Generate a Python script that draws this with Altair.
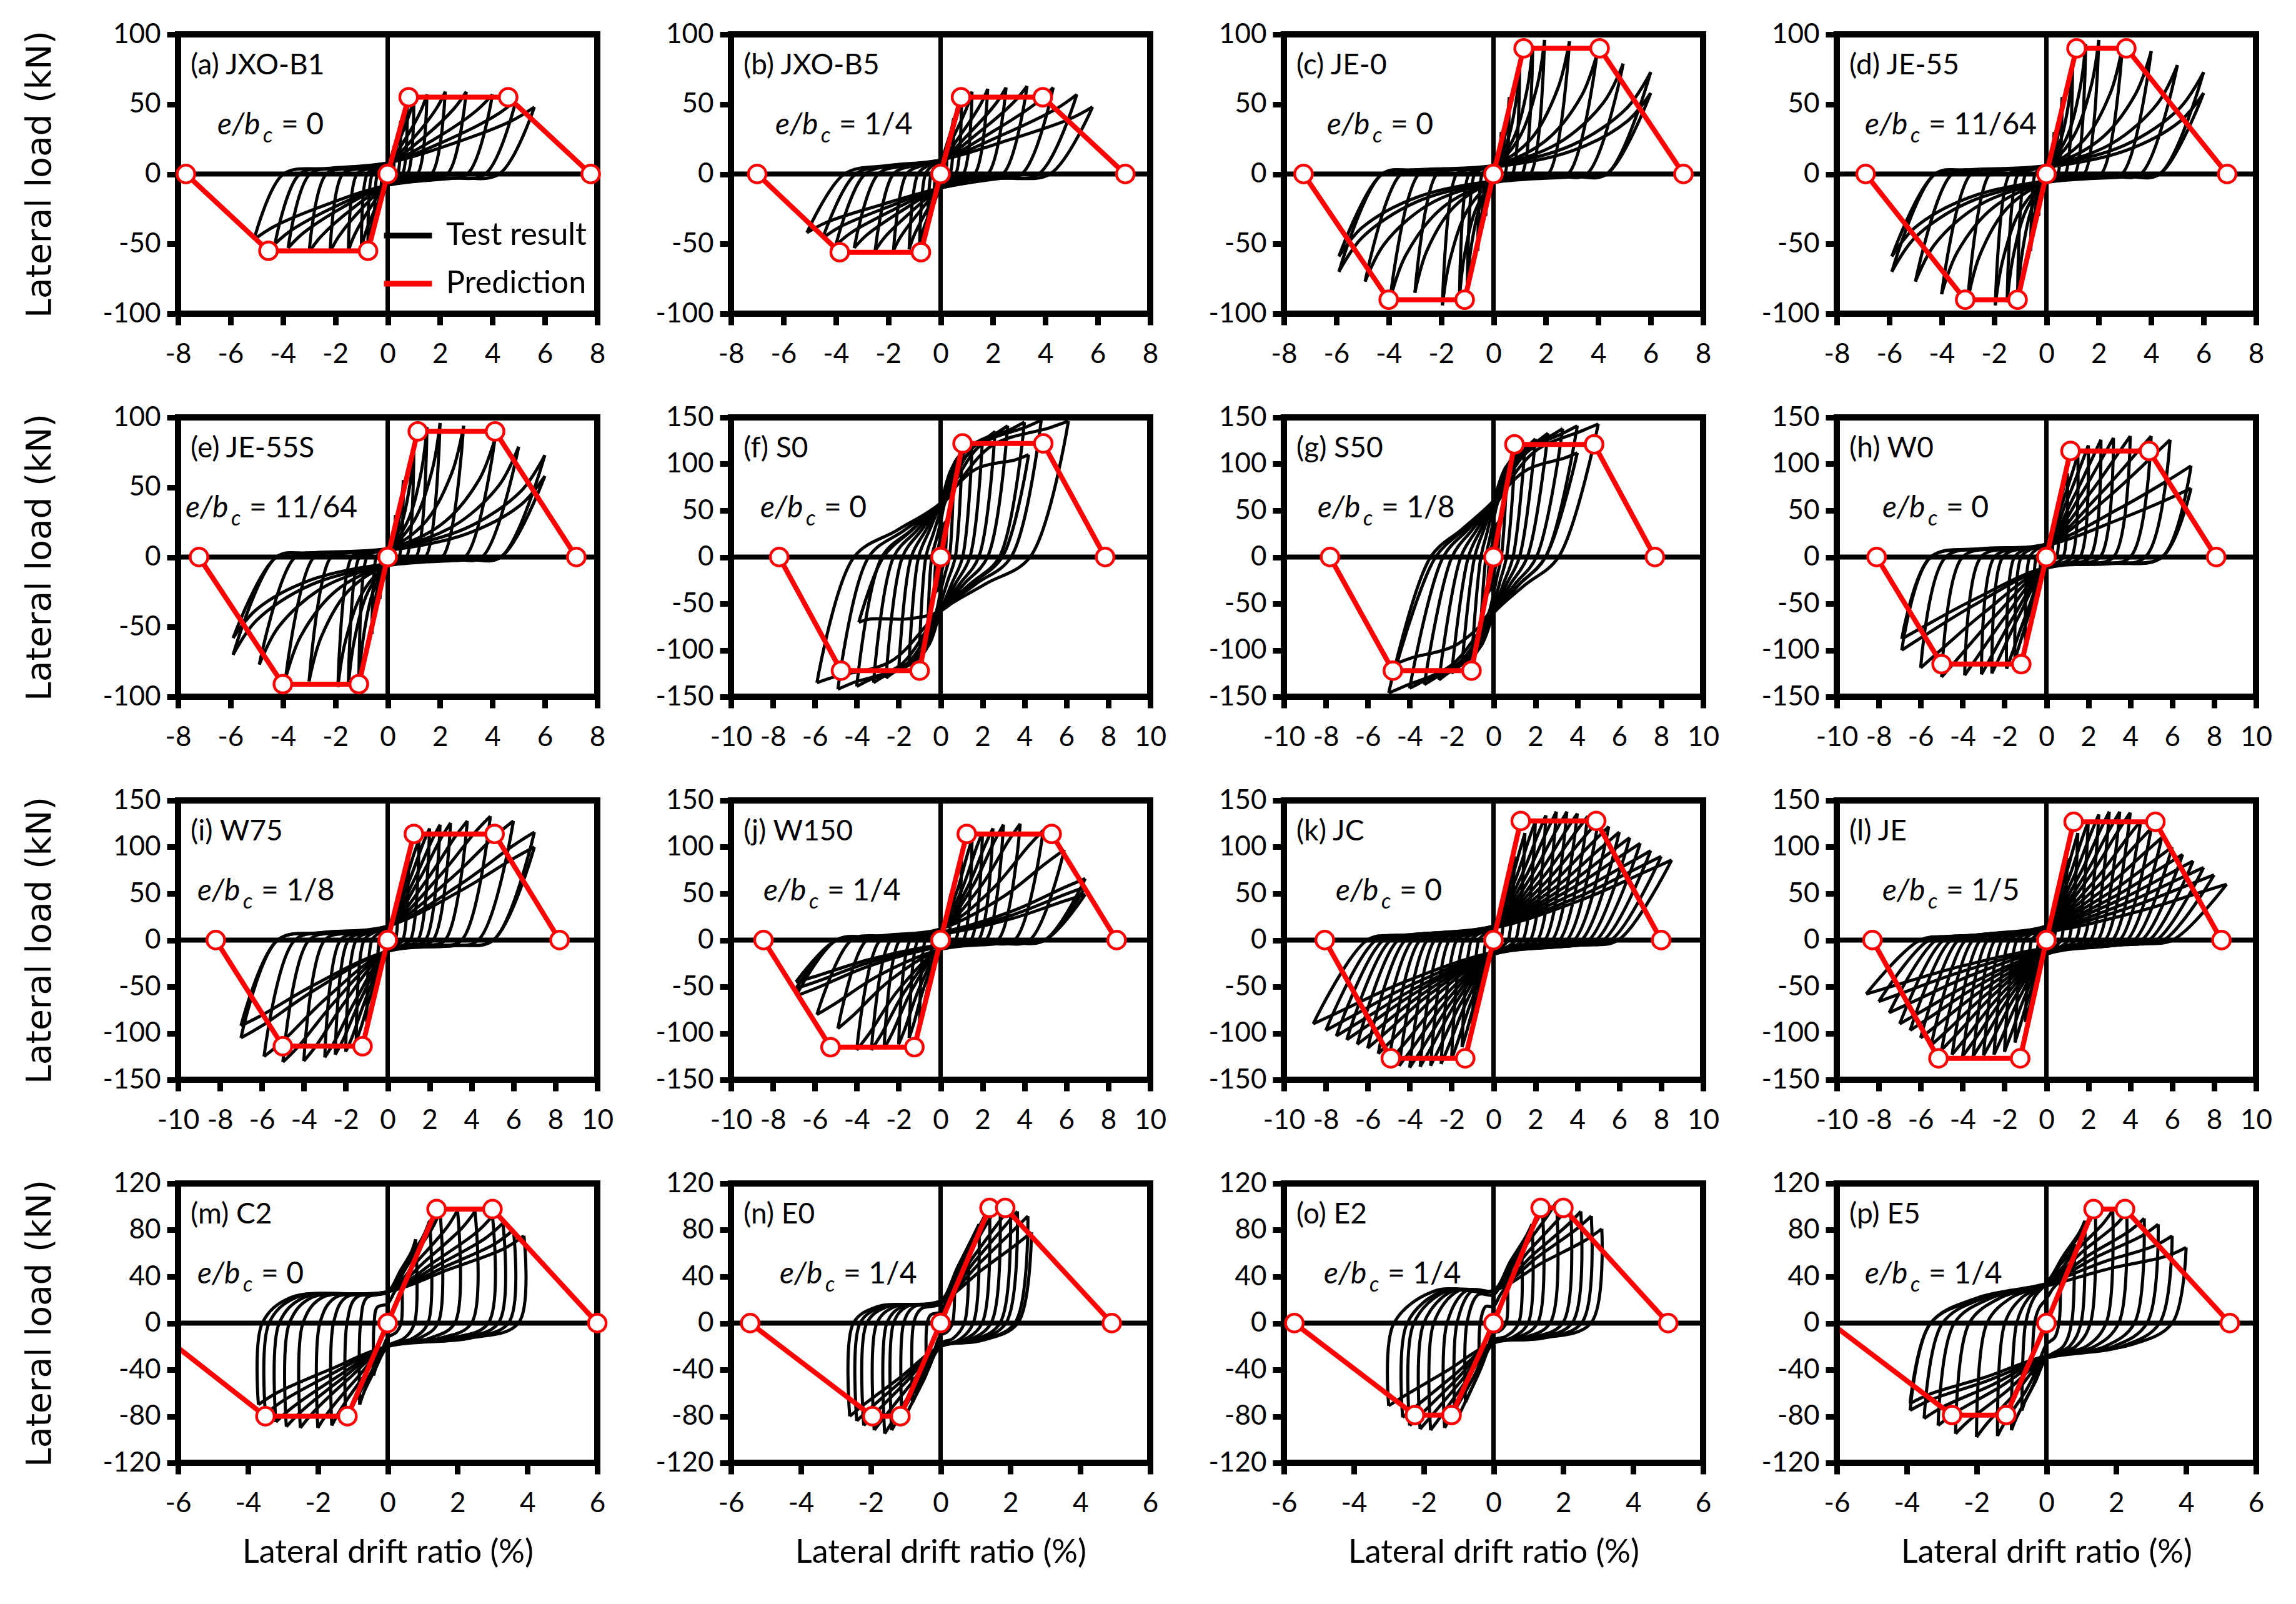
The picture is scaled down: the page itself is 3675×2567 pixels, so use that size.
import altair as alt
import pandas as pd

# ---------------- panel metadata ----------------
PANEL_TITLES = ["(a) JXO-B1", "(b) JXO-B5", "(c) JE-0", "(d) JE-55",
                "(e) JE-55S", "(f) S0", "(g) S50", "(h) W0",
                "(i) W75", "(j) W150", "(k) JC", "(l) JE",
                "(m) C2", "(n) E0", "(o) E2", "(p) E5"]
EBC_VALUES = ["0", "1/4", "0", "11/64", "11/64", "0", "1/8", "0",
              "1/8", "1/4", "0", "1/5", "0", "1/4", "1/4", "1/4"]
X_TICKS_8 = [-8, -6, -4, -2, 0, 2, 4, 6, 8]
X_TICKS_10 = [-10, -8, -6, -4, -2, 0, 2, 4, 6, 8, 10]
X_TICKS_6 = [-6, -4, -2, 0, 2, 4, 6]
Y_TICKS_100 = [-100, -50, 0, 50, 100]
Y_TICKS_150 = [-150, -100, -50, 0, 50, 100, 150]
Y_TICKS_120 = [-120, -80, -40, 0, 40, 80, 120]
PANEL_XTICKS = [X_TICKS_8] * 5 + [X_TICKS_10] * 7 + [X_TICKS_6] * 4
PANEL_YTICKS = [Y_TICKS_100] * 5 + [Y_TICKS_150] * 7 + [Y_TICKS_120] * 4

# ---------------- test result: cycle peaks (drift %, load kN) ----------------
A_POS = [(0.25, 20), (0.5, 38), (0.75, 50), (1.0, 55), (1.5, 57), (2.2, 59), (3.0, 59), (4.0, 57), (4.9, 53), (5.6, 48)]
A_NEG = [(-0.25, -20), (-0.5, -38), (-0.75, -48), (-1.0, -53), (-1.5, -55), (-2.2, -56), (-3.0, -56), (-3.8, -53), (-4.3, -50), (-5.1, -47)]
B_POS = [(0.25, 20), (0.5, 40), (0.8, 55), (1.2, 59), (1.8, 61), (2.5, 62), (3.3, 63), (4.3, 62), (5.2, 57), (5.8, 48)]
B_NEG = [(-0.25, -20), (-0.5, -38), (-0.8, -50), (-1.2, -54), (-1.8, -55), (-2.5, -55), (-3.3, -53), (-4.0, -51), (-4.5, -46), (-5.1, -42)]
C_POS = [(0.3, 30), (0.6, 55), (1.0, 78), (1.5, 92), (1.95, 96), (2.9, 95), (3.95, 86), (4.95, 79), (6.0, 73), (6.0, 58)]
C_NEG = [(-0.3, -30), (-0.6, -55), (-1.0, -80), (-1.3, -89), (-1.95, -94), (-3.0, -85), (-3.95, -90), (-4.9, -77), (-5.9, -70), (-5.9, -59)]
D_POS = [(0.3, 30), (0.6, 55), (1.0, 78), (1.5, 93), (2.0, 96), (2.9, 91), (4.0, 88), (5.0, 78), (6.0, 73), (6.0, 58)]
D_NEG = [(-0.3, -30), (-0.6, -55), (-1.1, -89), (-1.5, -92), (-1.95, -94), (-3.0, -90), (-4.0, -86), (-5.0, -77), (-5.9, -70), (-5.9, -59)]
E_POS = [(0.3, 30), (0.6, 55), (1.0, 80), (1.5, 93), (2.0, 96), (2.9, 94), (4.1, 85), (5.0, 79), (6.0, 73), (6.0, 58)]
E_NEG = [(-0.3, -30), (-0.6, -55), (-1.1, -90), (-1.5, -92), (-1.9, -93), (-3.0, -89), (-3.9, -87), (-4.9, -77), (-5.9, -70), (-5.9, -58)]
F_POS = [(0.3, 40), (0.6, 70), (1.0, 95), (1.5, 115), (2.0, 127), (2.6, 135), (3.2, 141), (4.0, 145), (4.8, 147), (6.1, 146), (4.2, 110)]
F_NEG = [(-0.3, -40), (-0.6, -70), (-1.0, -95), (-1.5, -112), (-2.0, -122), (-2.6, -130), (-3.2, -135), (-4.0, -139), (-4.9, -142), (-5.9, -135), (-3.9, -70)]
G_POS = [(0.3, 40), (0.6, 72), (1.0, 98), (1.5, 117), (2.0, 127), (2.6, 133), (3.3, 138), (4.0, 141), (5.0, 143), (4.0, 112)]
G_NEG = [(-0.3, -40), (-0.6, -72), (-1.0, -97), (-1.5, -115), (-2.0, -125), (-2.6, -132), (-3.3, -137), (-4.0, -141), (-5.0, -146), (-4.6, -114)]
H_POS = [(0.3, 30), (0.6, 60), (1.0, 90), (1.5, 110), (2.0, 120), (2.6, 126), (3.2, 128), (4.0, 130), (5.0, 130), (5.9, 126), (6.9, 98), (6.9, 74)]
H_NEG = [(-0.3, -30), (-0.6, -60), (-1.0, -92), (-1.5, -110), (-1.9, -120), (-2.6, -125), (-3.1, -126), (-3.9, -127), (-5.0, -129), (-6.0, -119), (-6.9, -100), (-6.9, -88)]
I_POS = [(0.5, 40), (1.0, 85), (1.5, 108), (2.0, 120), (2.5, 124), (3.0, 126), (3.8, 128), (4.9, 133), (6.0, 128), (7.0, 116), (7.0, 100)]
I_NEG = [(-0.5, -45), (-1.0, -88), (-1.5, -108), (-2.0, -120), (-2.5, -123), (-3.0, -126), (-4.0, -130), (-5.0, -131), (-5.9, -125), (-7.0, -105), (-7.0, -92)]
J_POS = [(0.5, 50), (1.0, 90), (1.5, 108), (2.0, 116), (2.5, 120), (3.0, 124), (3.8, 125), (4.9, 118), (5.9, 97), (6.9, 66), (6.9, 57), (6.9, 49)]
J_NEG = [(-0.5, -50), (-1.0, -88), (-1.5, -105), (-2.0, -112), (-2.7, -117), (-3.3, -118), (-4.0, -118), (-4.9, -95), (-5.9, -80), (-6.9, -60), (-6.9, -52), (-6.9, -45)]
K_POS = [(0.5, 40), (1.0, 90), (1.5, 115), (2.0, 128), (2.5, 134), (3.0, 138), (3.5, 138), (4.0, 136), (4.5, 133), (5.0, 128), (5.5, 122), (6.0, 116), (6.5, 110), (7.0, 104), (7.5, 96), (8.0, 90), (8.5, 86)]
K_NEG = [(-0.5, -40), (-1.0, -90), (-1.5, -115), (-2.0, -128), (-2.5, -133), (-3.0, -135), (-3.5, -136), (-4.0, -137), (-4.5, -135), (-5.0, -131), (-5.5, -122), (-6.0, -116), (-6.5, -112), (-7.0, -107), (-7.5, -103), (-8.0, -97), (-8.6, -90)]
L_POS = [(0.5, 40), (1.0, 88), (1.5, 115), (2.0, 128), (2.5, 135), (3.0, 138), (3.5, 138), (4.0, 137), (4.5, 128), (5.0, 120), (5.5, 110), (6.0, 100), (6.5, 92), (7.0, 85), (7.5, 78), (8.0, 70), (8.6, 60)]
L_NEG = [(-0.5, -40), (-1.0, -88), (-1.5, -110), (-2.0, -120), (-2.5, -123), (-3.0, -124), (-3.5, -125), (-4.0, -125), (-4.5, -123), (-5.0, -118), (-5.5, -113), (-6.0, -105), (-6.5, -97), (-7.0, -90), (-7.5, -78), (-8.0, -66), (-8.6, -58)]
M_POS = [(0.4, 40), (0.8, 72), (1.2, 88), (1.5, 96), (2.0, 97), (2.5, 96), (3.0, 92), (3.3, 86), (3.6, 80), (3.9, 75)]
M_NEG = [(-0.4, -45), (-0.8, -70), (-1.2, -85), (-1.6, -88), (-2.0, -90), (-2.5, -90), (-2.9, -89), (-3.2, -85), (-3.5, -78), (-3.7, -70)]
N_POS = [(0.4, 35), (0.8, 65), (1.1, 85), (1.4, 100), (1.7, 104), (2.0, 100), (2.2, 96), (2.5, 92), (2.6, 78)]
N_NEG = [(-0.4, -40), (-0.8, -68), (-1.1, -86), (-1.4, -92), (-1.6, -95), (-1.9, -92), (-2.2, -88), (-2.4, -84), (-2.6, -80)]
O_POS = [(0.4, 35), (0.8, 65), (1.1, 85), (1.4, 97), (1.8, 104), (2.2, 102), (2.5, 96), (2.8, 92), (3.1, 81)]
O_NEG = [(-0.4, -40), (-0.8, -68), (-1.1, -86), (-1.4, -90), (-1.8, -92), (-2.1, -91), (-2.4, -88), (-2.6, -81), (-3.0, -71)]
P_POS = [(0.4, 40), (0.8, 68), (1.1, 88), (1.4, 97), (1.9, 97), (2.3, 95), (2.8, 90), (3.2, 85), (3.6, 75), (4.0, 65)]
P_NEG = [(-0.4, -45), (-0.7, -75), (-1.0, -92), (-1.4, -97), (-2.0, -98), (-2.6, -95), (-3.1, -88), (-3.5, -82), (-3.9, -75), (-3.9, -69)]

# loop shape read per panel:
# (pos unload zero frac, pos plateau frac, pos plateau load, lower crossing,
#  neg unload zero frac, neg plateau frac, neg plateau load, upper crossing,
#  loading mid drift frac, loading mid load frac, near-peak load frac)
A_SHAPE = (0.76, 0.45, -3, -8, 0.78, 0.45, 4, 8, 0.45, 0.35, 0.80)
B_SHAPE = (0.72, 0.40, -3, -10, 0.72, 0.40, 6, 10, 0.45, 0.38, 0.82)
C_SHAPE = (0.72, 0.50, -2, -6, 0.72, 0.50, 3, 6, 0.50, 0.22, 0.65)
D_SHAPE = (0.72, 0.50, -2, -6, 0.72, 0.50, 3, 6, 0.50, 0.22, 0.65)
E_SHAPE = (0.72, 0.50, -2, -6, 0.72, 0.50, 3, 6, 0.50, 0.22, 0.65)
F_SHAPE = (0.70, 0.35, -29, -58, 0.70, 0.35, 29, 58, 0.40, 0.70, 0.95)
G_SHAPE = (0.62, 0.30, -30, -60, 0.60, 0.30, 30, 60, 0.40, 0.65, 0.95)
H_SHAPE = (0.80, 0.45, -7, -12, 0.80, 0.45, 9, 14, 0.50, 0.45, 0.85)
I_SHAPE = (0.72, 0.45, -6, -12, 0.75, 0.45, 8, 15, 0.50, 0.45, 0.87)
J_SHAPE = (0.72, 0.45, -4, -10, 0.72, 0.45, 5, 12, 0.50, 0.40, 0.85)
K_SHAPE = (0.70, 0.50, -6, -15, 0.70, 0.50, 6, 15, 0.50, 0.42, 0.85)
L_SHAPE = (0.70, 0.50, -6, -15, 0.70, 0.50, 6, 15, 0.50, 0.42, 0.85)
M_SHAPE = (0.96, 0.60, -13, -20, 0.97, 0.75, 22, 27, 0.45, 0.40, 0.85)
N_SHAPE = (0.85, 0.45, -15, -20, 0.96, 0.70, 14, 19, 0.45, 0.45, 0.88)
O_SHAPE = (0.90, 0.45, -13, -17, 0.95, 0.55, 28, 28, 0.45, 0.45, 0.88)
P_SHAPE = (0.90, 0.60, -20, -30, 0.85, 0.50, 22, 34, 0.45, 0.45, 0.88)

# ---------------- prediction (drift %, load kN) ----------------
A_PRED_D = [-7.7, -4.55, -0.75, 0, 0.8, 4.6, 7.75]
A_PRED_P = [0, -55, -55, 0, 55, 55, 0]
B_PRED_D = [-7.0, -3.85, -0.75, 0, 0.78, 3.9, 7.05]
B_PRED_P = [0, -56, -56, 0, 55, 55, 0]
C_PRED_D = [-7.25, -4.0, -1.1, 0, 1.15, 4.05, 7.25]
C_PRED_P = [0, -90, -90, 0, 90, 90, 0]
D_PRED_D = [-6.9, -3.1, -1.1, 0, 1.15, 3.05, 6.9]
D_PRED_P = [0, -90, -90, 0, 90, 90, 0]
E_PRED_D = [-7.2, -4.0, -1.1, 0, 1.15, 4.1, 7.2]
E_PRED_P = [0, -91, -91, 0, 90, 90, 0]
F_PRED_D = [-7.7, -4.75, -1.0, 0, 1.05, 4.9, 7.85]
F_PRED_P = [0, -122, -122, 0, 122, 122, 0]
G_PRED_D = [-7.8, -4.8, -1.05, 0, 1.0, 4.8, 7.7]
G_PRED_P = [0, -122, -122, 0, 121, 121, 0]
H_PRED_D = [-8.1, -5.0, -1.2, 0, 1.15, 4.9, 8.1]
H_PRED_P = [0, -115, -115, 0, 114, 114, 0]
I_PRED_D = [-8.2, -5.0, -1.2, 0, 1.25, 5.1, 8.2]
I_PRED_P = [0, -114, -114, 0, 114, 114, 0]
J_PRED_D = [-8.45, -5.25, -1.25, 0, 1.25, 5.3, 8.4]
J_PRED_P = [0, -115, -115, 0, 114, 114, 0]
K_PRED_D = [-8.05, -4.9, -1.35, 0, 1.3, 4.9, 8.0]
K_PRED_P = [0, -127, -127, 0, 128, 128, 0]
L_PRED_D = [-8.3, -5.15, -1.25, 0, 1.3, 5.2, 8.35]
L_PRED_P = [0, -127, -127, 0, 127, 127, 0]
M_PRED_D = [-6.9, -3.5, -1.15, 0, 1.4, 3.0, 6.0]
M_PRED_P = [0, -80, -80, 0, 98, 98, 0]
N_PRED_D = [-5.45, -1.95, -1.15, 0, 1.4, 1.85, 4.9]
N_PRED_P = [0, -80, -80, 0, 99, 99, 0]
O_PRED_D = [-5.7, -2.25, -1.2, 0, 1.35, 2.0, 5.0]
O_PRED_P = [0, -79, -79, 0, 99, 99, 0]
P_PRED_D = [-6.17, -2.7, -1.15, 0, 1.35, 2.25, 5.25]
P_PRED_P = [0, -79, -79, 0, 98, 98, 0]

POS_ALL = [A_POS, B_POS, C_POS, D_POS, E_POS, F_POS, G_POS, H_POS, I_POS, J_POS, K_POS, L_POS, M_POS, N_POS, O_POS, P_POS]
NEG_ALL = [A_NEG, B_NEG, C_NEG, D_NEG, E_NEG, F_NEG, G_NEG, H_NEG, I_NEG, J_NEG, K_NEG, L_NEG, M_NEG, N_NEG, O_NEG, P_NEG]
SHAPE_ALL = [A_SHAPE, B_SHAPE, C_SHAPE, D_SHAPE, E_SHAPE, F_SHAPE, G_SHAPE, H_SHAPE, I_SHAPE, J_SHAPE, K_SHAPE, L_SHAPE, M_SHAPE, N_SHAPE, O_SHAPE, P_SHAPE]
PRED_D_ALL = [A_PRED_D, B_PRED_D, C_PRED_D, D_PRED_D, E_PRED_D, F_PRED_D, G_PRED_D, H_PRED_D, I_PRED_D, J_PRED_D, K_PRED_D, L_PRED_D, M_PRED_D, N_PRED_D, O_PRED_D, P_PRED_D]
PRED_P_ALL = [A_PRED_P, B_PRED_P, C_PRED_P, D_PRED_P, E_PRED_P, F_PRED_P, G_PRED_P, H_PRED_P, I_PRED_P, J_PRED_P, K_PRED_P, L_PRED_P, M_PRED_P, N_PRED_P, O_PRED_P, P_PRED_P]

# ---------------- layout / style ----------------
W, H = 671, 447
EBC_DX = [63, 71, 69, 45, 12, 47, 54, 73, 31, 52, 83, 73, 31, 78, 64, 45]
LABEL_DX, LABEL_Y, EBC_Y = 20, 50, 146
TXT_FONT = "Lato"
RED = "#FF0000"
FRAME_W = 10
HYPHEN_LABEL = "datum.value < 0 ? '-' + abs(datum.value) : '' + datum.value"


def build_loops(pos, neg, shape):
    up, wp, sb, cb, un, wn, st, ct, mx, my, q = shape
    pmax = max(max(abs(v) for _, v in pos), max(abs(v) for _, v in neg))
    rows = []
    g = 0
    for (dp, pp), (dn, pn) in zip(pos, neg):
        f = min(1.0, max(abs(pp), abs(pn)) / (0.75 * pmax))
        t, tc, b, bc = st * f, ct * f, sb * f, cb * f
        seg_a = [(dn, pn), (un * dn, 0.0), (wn * dn, t), (0.0, tc),
                 (mx * dp, tc + my * (pp - tc)), (0.85 * dp, q * pp), (dp, pp)]
        seg_b = [(dp, pp), (up * dp, 0.0), (wp * dp, b), (0.0, bc),
                 (mx * dn, bc + my * (pn - bc)), (0.85 * dn, q * pn), (dn, pn)]
        for seg in (seg_a, seg_b):
            for k, (x, y) in enumerate(seg):
                rows.append({"d": x, "p": y, "g": g, "k": k, "series": "Test result"})
            g += 1
    return pd.DataFrame(rows)


def panel(i):
    r, c = divmod(i, 4)
    xt, yt = PANEL_XTICKS[i], PANEL_YTICKS[i]
    xs = alt.Scale(domain=[xt[0], xt[-1]], nice=False, zero=False)
    ys = alt.Scale(domain=[yt[0], yt[-1]], nice=False, zero=False)
    xaxis = alt.Axis(values=xt, labelExpr=HYPHEN_LABEL,
                     title="Lateral drift ratio (%)" if r == 3 else None)
    yaxis = alt.Axis(values=yt, labelExpr=HYPHEN_LABEL,
                     title="Lateral load (kN)" if c == 0 else None)
    X = alt.X("d:Q", scale=xs, axis=xaxis)
    Y = alt.Y("p:Q", scale=ys, axis=yaxis)

    if i == 0:
        cscale = alt.Scale(domain=["Test result", "Prediction"], range=["black", RED])
        legend = alt.Legend(title=None, orient="none", legendX=325, legendY=279,
                            symbolType="stroke", symbolSize=5900, symbolStrokeWidth=9,
                            labelFont=TXT_FONT, labelFontSize=50, labelColor="black",
                            labelOffset=18, rowPadding=9, padding=0, labelLimit=400)
        col_loop = alt.Color("series:N", scale=cscale, legend=legend)
        col_pred = alt.Color("series:N", scale=cscale, legend=legend)
    else:
        col_loop = alt.value("black")
        col_pred = alt.value(RED)

    loops = build_loops(POS_ALL[i], NEG_ALL[i], SHAPE_ALL[i])
    pred = pd.DataFrame({"d": PRED_D_ALL[i], "p": PRED_P_ALL[i],
                         "k": list(range(len(PRED_D_ALL[i]))),
                         "series": ["Prediction"] * len(PRED_D_ALL[i])})
    pts = pred[(pred["d"] >= xt[0]) & (pred["d"] <= xt[-1])]

    vzero = alt.Chart(pd.DataFrame({"d": [0]})).mark_rule(color="black", strokeWidth=7).encode(x=X)
    hzero = alt.Chart(pd.DataFrame({"p": [0]})).mark_rule(color="black", strokeWidth=8).encode(y=Y)
    loop_layer = alt.Chart(loops).mark_line(interpolate="catmull-rom", strokeWidth=5, clip=True).encode(
        x=X, y=Y, detail="g:N", order="k:Q", color=col_loop)
    pred_line = alt.Chart(pred).mark_line(strokeWidth=8, clip=True).encode(
        x=X, y=Y, order="k:Q", color=col_pred)
    frame = alt.Chart(pd.DataFrame({"f": [1]})).mark_rect(
        filled=False, fill="transparent", stroke="black", strokeWidth=FRAME_W).encode(
        x=alt.value(0), x2=alt.value(W), y=alt.value(0), y2=alt.value(H))
    pred_pts = alt.Chart(pts).mark_point(shape="circle", filled=True, fill="white", stroke=RED,
                                         strokeWidth=4.5, size=800, opacity=1).encode(x=X, y=Y)

    lab = alt.Chart(pd.DataFrame({"t": [PANEL_TITLES[i]]})).mark_text(
        font=TXT_FONT, fontSize=46, align="left", baseline="middle", color="black").encode(
        x=alt.value(LABEL_DX), y=alt.value(LABEL_Y), text="t:N")
    x0 = EBC_DX[i]
    e1 = alt.Chart(pd.DataFrame({"t": ["e/b"]})).mark_text(
        font=TXT_FONT, fontSize=48, fontStyle="italic", align="left", baseline="middle", color="black").encode(
        x=alt.value(x0), y=alt.value(EBC_Y), text="t:N")
    e2 = alt.Chart(pd.DataFrame({"t": ["c"]})).mark_text(
        font=TXT_FONT, fontSize=34, fontStyle="italic", align="left", baseline="middle", color="black").encode(
        x=alt.value(x0 + 73), y=alt.value(EBC_Y + 17), text="t:N")
    e3 = alt.Chart(pd.DataFrame({"t": ["= " + EBC_VALUES[i]]})).mark_text(
        font=TXT_FONT, fontSize=48, align="left", baseline="middle", color="black").encode(
        x=alt.value(x0 + 102), y=alt.value(EBC_Y), text="t:N")

    return alt.layer(vzero, hzero, loop_layer, pred_line, frame, pred_pts, lab, e1, e2, e3).properties(
        width=W, height=H)


panels = [panel(i) for i in range(16)]
chart = alt.concat(*panels, columns=4, spacing={"row": 166, "column": 214}, bounds="flush").resolve_scale(
    color="independent").resolve_legend(color="independent").configure(
    padding={"left": 27, "top": 24, "right": 5, "bottom": 5}, font=TXT_FONT, background="white"
).configure_view(stroke="transparent").configure_axis(
    domain=False, grid=False, ticks=True, tickColor="black", tickWidth=9, tickSize=18,
    labelFont=TXT_FONT, labelFontSize=44, labelColor="black", labelFlush=False, labelOverlap=False,
    titleColor="black", titleFontWeight="normal"
).configure_axisX(
    labelPadding=25, minExtent=100, maxExtent=100, titleFont=TXT_FONT, titleFontSize=52, titlePadding=18
).configure_axisY(
    labelPadding=10, minExtent=115, maxExtent=115, titleFont="DejaVu Sans", titleFontSize=55, titlePadding=78
)

chart.save("out.html", embed_options={"renderer": "svg", "actions": False})
